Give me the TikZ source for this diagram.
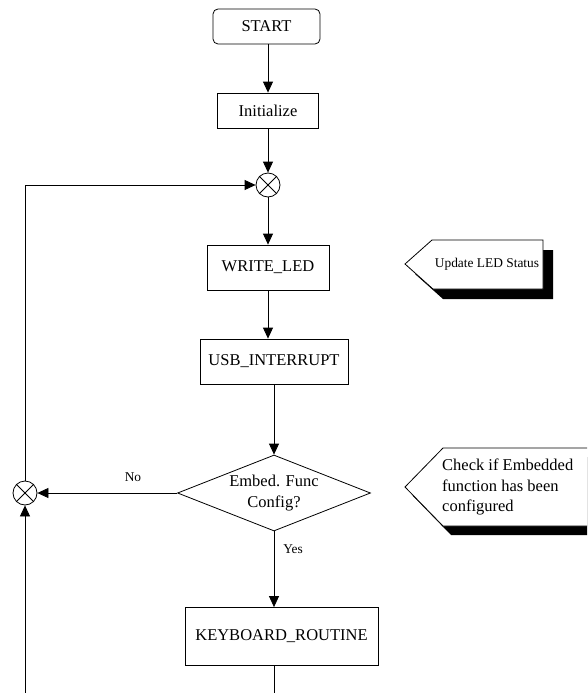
\documentclass[tikz,border=0pt]{standalone}
\usepackage{fontspec}
\setmainfont{Liberation Serif}
\usetikzlibrary{arrows.meta,shapes.geometric}

\tikzset{
  txt/.style={font=\fontsize{16.5}{20.5}\selectfont},
  small/.style={font=\fontsize{13.4}{16}\selectfont},
  box/.style={txt, draw=black, line width=0.8pt, fill=white, inner sep=0pt},
  rbox/.style={box, rounded corners=5pt},
  junction/.style={draw=black, line width=0.8pt, circle, minimum size=24pt, inner sep=0pt},
  decision/.style={txt, draw=black, line width=0.8pt, diamond, aspect=2.54, inner sep=0pt, align=center},
  flow/.style={draw=black, line width=0.8pt},
  arr/.style={flow, -{Triangle[length=11pt,width=10pt]}},
  callout/.style={draw=black, line width=0.8pt, fill=white},
  calloutshadow/.style={fill=black},
}

\begin{document}
\begin{tikzpicture}[x=1pt,y=-1pt]
\useasboundingbox (0,0) rectangle (587,693);
\clip (0,0) rectangle (587,693);

% main column
\node[rbox, minimum width=107pt, minimum height=35pt] (start) at (266.5,26.5) {START};
\node[box, minimum width=101pt, minimum height=35pt] (init) at (268,110.5) {Initialize};
\node[junction] (j1) at (268,185) {};
\node[box, minimum width=122pt, minimum height=45pt] (wled) at (268,267.5) {WRITE\_LED};
\node[box, minimum width=148pt, minimum height=45pt] (usb) at (274,361.5) {USB\_INTERRUPT};
\node[decision, minimum width=193pt, minimum height=76pt] (dec) at (274,493) {Embed. Func\\Config?};
\node[box, minimum width=193pt, minimum height=58pt] (kbd) at (281.5,636.5) {KEYBOARD\_ROUTINE};

% loop-back junction on the left
\node[junction] (j2) at (25,493) {};

% crosses inside the junctions
\foreach \j in {j1,j2}
  \draw[flow] (\j.45) -- (\j.225) (\j.135) -- (\j.315);

% free ends at the lower border
\coordinate (loopin) at (25,693);
\coordinate (kbout) at (274,693);

% connectors
\draw[arr] (start.south -| init.south) -- (init.north);
\draw[arr] (init.south) -- (j1.north);
\draw[arr] (j1.south) -- (wled.north);
\draw[arr] (wled.south) -- (wled.south |- usb.north);
\draw[arr] (usb.south) -- (usb.south |- dec.north);
\draw[arr] (dec.west) -- (j2.east);
\draw[arr] (dec.south) -- (dec.south |- kbd.north);
\draw[arr] (j2.north) |- (j1.west);
\draw[arr] (loopin) -- (j2.south);
\draw[flow] (kbd.south -| kbout) -- (kbout);

% branch labels
\node[small] (lno) at (133,477) {No};
\node[small] (lyes) at (293,549) {Yes};

% callout: LED status
\fill[calloutshadow, shift={(10,10)}] (405,264) -- (432,240) -- (543,240) -- (543,289) -- (433,289) -- cycle;
\draw[callout] (405,264) -- (432,240) -- (543,240) -- (543,289) -- (433,289) -- cycle;
\node[small] (n1) at (487,264) {Update LED Status};

% callout: embedded function check
\fill[calloutshadow, shift={(8,9)}] (405,487) -- (443,448) -- (600,448) -- (600,526) -- (443,526) -- cycle;
\draw[callout] (405,487) -- (443,448) -- (600,448) -- (600,526) -- (443,526) -- cycle;
\node[txt, anchor=west, align=left, inner sep=0pt] (n2) at (442,487) {Check if Embedded\\function has been\\configured};
\end{tikzpicture}
\end{document}
